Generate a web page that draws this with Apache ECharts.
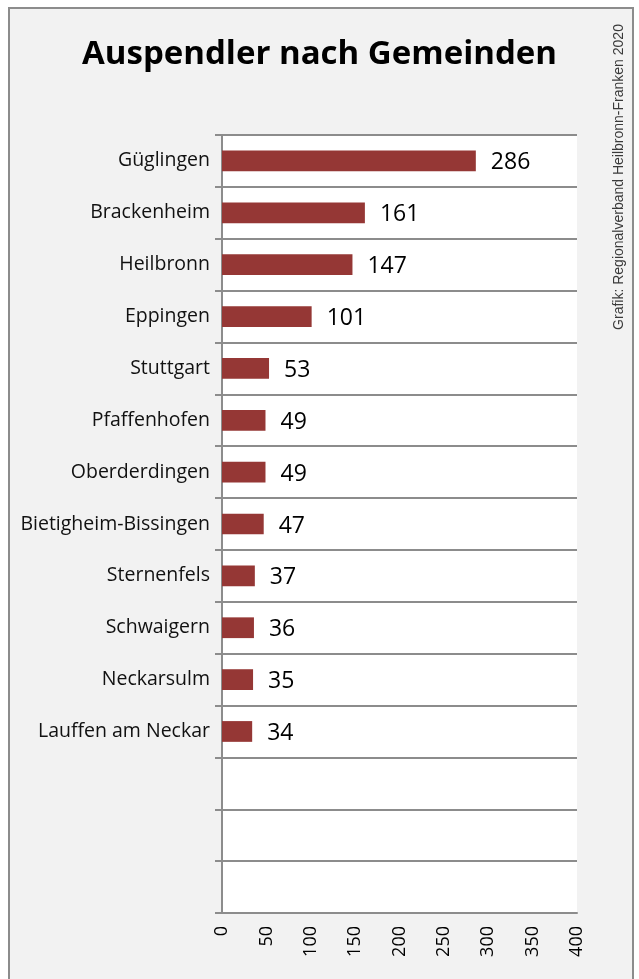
<!DOCTYPE html>
<html>
<head>
<meta charset="utf-8">
<script src="https://cdn.jsdelivr.net/npm/echarts@6/dist/echarts.min.js"></script>
<style>
html,body{margin:0;padding:0;background:#fff;}
#c{width:639px;height:979px;}
</style>
</head>
<body>
<div id="c"></div>
<script>
const categories = ["Güglingen","Brackenheim","Heilbronn","Eppingen","Stuttgart","Pfaffenhofen","Oberderdingen","Bietigheim-Bissingen","Sternenfels","Schwaigern","Neckarsulm","Lauffen am Neckar","","",""];
const values = [286,161,147,101,53,49,49,47,37,36,35,34,null,null,null];
const xTicks = {min:0, max:400, interval:50};
const titleText = "Auspendler nach Gemeinden";
const sourceText = "Grafik: Regionalverband Heilbronn-Franken 2020";

const chart = echarts.init(document.getElementById('c'));
chart.setOption({
  animation:false,
  backgroundColor:'#fff',
  graphic:[
    {type:'rect', z:-10, shape:{x:9,y:8,width:624,height:990}, style:{fill:'#f2f2f2', stroke:'#8c8c8c', lineWidth:2}},
    {type:'text', x:619, y:177, rotation:Math.PI/2, style:{text:sourceText, font:'14px "Liberation Sans", Arial, sans-serif', fill:'#3a3a3a', textAlign:'center', textVerticalAlign:'middle'}}
  ],
  title:{text:titleText, left:'center', top:33, textStyle:{fontFamily:'Open Sans', fontWeight:'bold', fontSize:33, color:'#000'}},
  grid:{left:222, right:62, top:135, bottom:66, show:true, backgroundColor:'#fff', borderWidth:0, containLabel:false},
  xAxis:{type:'value', min:xTicks.min, max:xTicks.max, interval:xTicks.interval,
    axisLine:{show:true, lineStyle:{color:'#8c8c8c', width:2}},
    axisTick:{show:false}, splitLine:{show:false},
    axisLabel:{rotate:90, margin:13, fontFamily:'Open Sans', fontSize:18, color:'#000'}},
  yAxis:{type:'category', data:categories, inverse:true,
    axisLine:{show:true, lineStyle:{color:'#8c8c8c', width:2}},
    axisTick:{show:true, length:7, lineStyle:{color:'#8c8c8c', width:2}},
    splitLine:{show:true, lineStyle:{color:'#8c8c8c', width:2}},
    axisLabel:{margin:12, padding:[4,0,0,0], fontFamily:'Open Sans', fontSize:19.5, color:'#111'}},
  series:[{type:'bar', data:values, barWidth:'40%', itemStyle:{color:'#953735'},
    label:{show:true, position:'right', distance:15, offset:[0,2], fontFamily:'Open Sans', fontSize:23, color:'#000'}}]
});
</script>
</body>
</html>
